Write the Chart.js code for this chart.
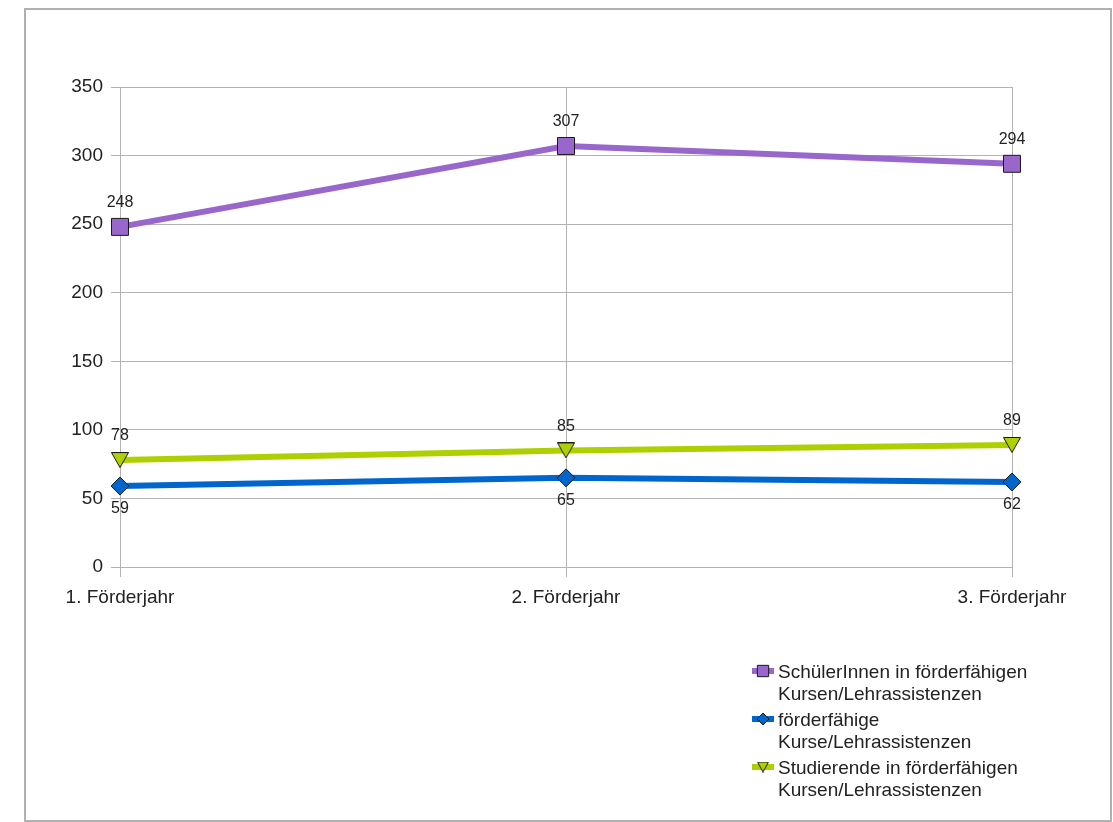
<!DOCTYPE html>
<html>
<head>
<meta charset="utf-8">
<script src="https://cdn.jsdelivr.net/npm/chart.js@4.4.1/dist/chart.umd.min.js"></script>
<style>
  html, body { margin: 0; padding: 0; background: #fff; }
  #wrap { width: 1113px; height: 822px; position: relative; }
</style>
</head>
<body>
<div id="wrap"><canvas id="chart" width="1113" height="822"></canvas></div>
<script>
// chart data
const years = ['1. Förderjahr', '2. Förderjahr', '3. Förderjahr'];
const schueler = [248, 307, 294];
const kurse = [59, 65, 62];
const studierende = [78, 85, 89];
const seriesNames = [
    ['SchülerInnen in förderfähigen', 'Kursen/Lehrassistenzen'],
    ['förderfähige', 'Kurse/Lehrassistenzen'],
    ['Studierende in förderfähigen', 'Kursen/Lehrassistenzen']
];
const yTicks = { min: 0, max: 350, step: 50 };

const FONT = '"Liberation Sans", Arial, sans-serif';
const colors = ['#9966cc', '#0066cc', '#aecf00'];

// downward triangle, centred on its bounding box like the original
function makeTriangle(w, h, fill) {
    const c = document.createElement('canvas');
    c.width = w;
    c.height = h;
    const g = c.getContext('2d');
    g.fillStyle = fill;
    g.strokeStyle = '#1a1a1a';
    g.lineWidth = 1;
    g.beginPath();
    g.moveTo(0.5, 0.5);
    g.lineTo(w - 0.5, 0.5);
    g.lineTo(w / 2, h - 0.5);
    g.closePath();
    g.fill();
    g.stroke();
    return c;
}
const triBig = makeTriangle(18, 16, colors[2]);
const triSmall = makeTriangle(12, 11, colors[2]);

const framePlugin = {
    id: 'frame',
    beforeDraw(chart) {
        const ctx = chart.ctx;
        ctx.save();
        ctx.fillStyle = '#fff';
        ctx.fillRect(0, 0, chart.width, chart.height);
        ctx.strokeStyle = '#b0b0b0';
        ctx.lineWidth = 2;
        ctx.strokeRect(25, 9, 1086, 812);
        ctx.restore();
    }
};

const valueLabels = {
    id: 'valueLabels',
    afterDatasetsDraw(chart) {
        const ctx = chart.ctx;
        ctx.save();
        ctx.font = '16px ' + FONT;
        ctx.fillStyle = '#222';
        ctx.textAlign = 'center';
        ctx.textBaseline = 'middle';
        chart.data.datasets.forEach((ds, i) => {
            const meta = chart.getDatasetMeta(i);
            meta.data.forEach((pt, j) => {
                const dy = ds.labelBelow ? 23 : -24;
                ctx.fillText(String(ds.data[j]), pt.x, pt.y + dy);
            });
        });
        ctx.restore();
    }
};

const sideLegend = {
    id: 'sideLegend',
    afterDraw(chart) {
        const ctx = chart.ctx;
        ctx.save();
        chart.data.datasets.forEach((ds, i) => {
            const y = 671 + i * 48;
            ctx.strokeStyle = ds.borderColor;
            ctx.lineWidth = 6;
            ctx.beginPath();
            ctx.moveTo(752, y);
            ctx.lineTo(774, y);
            ctx.stroke();
            if (ds.legendImage) {
                const im = ds.legendImage;
                ctx.drawImage(im, 763 - im.width / 2, y - im.height / 2);
            } else {
                ctx.fillStyle = ds.pointBackgroundColor;
                ctx.strokeStyle = '#1a1a1a';
                ctx.lineWidth = 1;
                Chart.helpers.drawPoint(ctx, {
                    pointStyle: ds.pointStyle,
                    rotation: 0,
                    radius: ds.legendRadius,
                    borderWidth: 1
                }, 763, y);
            }
            ctx.fillStyle = '#222';
            ctx.font = '19px ' + FONT;
            ctx.textAlign = 'left';
            ctx.textBaseline = 'middle';
            seriesNames[i].forEach((line, k) => {
                ctx.fillText(line, 778, y + 2 + k * 22);
            });
        });
        ctx.restore();
    }
};

new Chart(document.getElementById('chart'), {
    type: 'line',
    data: {
        labels: years,
        datasets: [
            {
                label: seriesNames[0].join(' '),
                data: schueler,
                borderColor: colors[0],
                pointBackgroundColor: colors[0],
                pointStyle: 'rect',
                pointRadius: 12,
                legendRadius: 8,
                labelBelow: false
            },
            {
                label: seriesNames[1].join(' '),
                data: kurse,
                borderColor: colors[1],
                pointBackgroundColor: colors[1],
                pointStyle: 'rectRot',
                pointRadius: 9,
                legendRadius: 6,
                labelBelow: true
            },
            {
                label: seriesNames[2].join(' '),
                data: studierende,
                borderColor: colors[2],
                pointBackgroundColor: colors[2],
                pointStyle: triBig,
                legendImage: triSmall,
                pointRadius: 10,
                labelBelow: false
            }
        ].map(d => Object.assign({
            borderWidth: 6,
            tension: 0,
            fill: false,
            pointBorderColor: '#1a1a1a',
            pointBorderWidth: 1,
            pointHoverRadius: d.pointRadius
        }, d))
    },
    options: {
        responsive: false,
        animation: false,
        events: [],
        layout: { padding: { top: 87, right: 101, bottom: 0, left: 0 } },
        plugins: {
            legend: { display: false },
            tooltip: { enabled: false }
        },
        scales: {
            x: {
                offset: false,
                grid: { color: '#b3b3b3', lineWidth: 1, tickLength: 10 },
                border: { color: '#b3b3b3' },
                ticks: {
                    color: '#222',
                    font: { family: FONT, size: 19 },
                    padding: 9,
                    maxRotation: 0,
                    autoSkip: false
                },
                afterFit(s) { s.height = 255; }
            },
            y: {
                min: yTicks.min,
                max: yTicks.max,
                grid: { color: '#b3b3b3', lineWidth: 1, tickLength: 9 },
                border: { color: '#b3b3b3' },
                ticks: {
                    stepSize: yTicks.step,
                    color: '#222',
                    font: { family: FONT, size: 19 },
                    padding: 8
                },
                afterFit(s) { s.width = 120; }
            }
        }
    },
    plugins: [framePlugin, valueLabels, sideLegend]
});
</script>
</body>
</html>
